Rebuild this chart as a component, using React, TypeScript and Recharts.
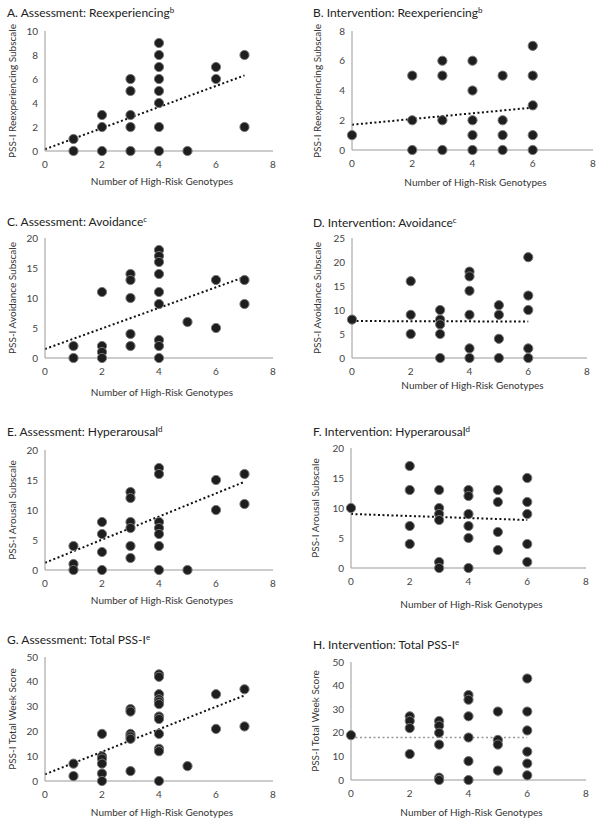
import React from "react";
import { ScatterChart, Scatter, XAxis, YAxis, ReferenceLine } from "recharts";

// [genotypes, score] pairs
const assessReexp: [number, number][] = [
  [1, 1], [1, 0],
  [2, 3], [2, 2], [2, 0],
  [3, 6], [3, 5], [3, 3], [3, 2], [3, 0],
  [4, 9], [4, 8], [4, 7], [4, 6], [4, 5], [4, 4], [4, 2], [4, 0],
  [5, 0],
  [6, 7], [6, 6],
  [7, 8], [7, 2],
];
const interReexp: [number, number][] = [
  [0, 1],
  [2, 5], [2, 2], [2, 0],
  [3, 6], [3, 5], [3, 2], [3, 0],
  [4, 6], [4, 4], [4, 2], [4, 1], [4, 0],
  [5, 5], [5, 2], [5, 1], [5, 0],
  [6, 7], [6, 5], [6, 3], [6, 1], [6, 0],
];
const assessAvoid: [number, number][] = [
  [1, 2], [1, 0],
  [2, 11], [2, 2], [2, 1], [2, 0],
  [3, 14], [3, 13], [3, 10], [3, 4], [3, 2],
  [4, 18], [4, 17], [4, 16], [4, 14], [4, 11], [4, 9], [4, 3], [4, 2], [4, 0],
  [5, 6],
  [6, 13], [6, 5],
  [7, 13], [7, 9],
];
const interAvoid: [number, number][] = [
  [0, 8],
  [2, 16], [2, 9], [2, 5],
  [3, 10], [3, 8], [3, 7], [3, 5], [3, 0],
  [4, 18], [4, 17], [4, 14], [4, 9], [4, 2], [4, 0],
  [5, 11], [5, 9], [5, 4], [5, 0],
  [6, 21], [6, 13], [6, 10], [6, 2], [6, 0],
];
const assessArousal: [number, number][] = [
  [1, 4], [1, 1], [1, 0],
  [2, 8], [2, 6], [2, 3], [2, 0],
  [3, 13], [3, 12], [3, 8], [3, 7], [3, 4], [3, 2],
  [4, 17], [4, 16], [4, 8], [4, 7], [4, 6], [4, 4], [4, 0],
  [5, 0],
  [6, 15], [6, 10],
  [7, 16], [7, 11],
];
const interArousal: [number, number][] = [
  [0, 10],
  [2, 17], [2, 13], [2, 7], [2, 4],
  [3, 13], [3, 10], [3, 9], [3, 8], [3, 1], [3, 0],
  [4, 13], [4, 12], [4, 9], [4, 7], [4, 5], [4, 0],
  [5, 13], [5, 11], [5, 6], [5, 3],
  [6, 15], [6, 11], [6, 9], [6, 4], [6, 1],
];
const assessTotal: [number, number][] = [
  [1, 7], [1, 2],
  [2, 19], [2, 10], [2, 9], [2, 7], [2, 3], [2, 0],
  [3, 29], [3, 28], [3, 19], [3, 18], [3, 17], [3, 4],
  [4, 43], [4, 42], [4, 35], [4, 33], [4, 32], [4, 31], [4, 26], [4, 25], [4, 19], [4, 13], [4, 12], [4, 0],
  [5, 6],
  [6, 35], [6, 21],
  [7, 37], [7, 22],
];
const interTotal: [number, number][] = [
  [0, 19],
  [2, 27], [2, 25], [2, 22], [2, 11],
  [3, 25], [3, 23], [3, 20], [3, 15], [3, 1], [3, 0],
  [4, 36], [4, 34], [4, 27], [4, 18], [4, 8], [4, 0],
  [5, 29], [5, 17], [5, 15], [5, 4],
  [6, 43], [6, 29], [6, 21], [6, 12], [6, 7], [6, 2],
];

// fitted trend line endpoints: [x0, y0, x1, y1]
const trendAssessReexp = [0, 0.15, 7, 6.3];
const trendInterReexp = [0, 1.7, 6, 2.85];
const trendAssessAvoid = [0, 1.5, 7, 13.5];
const trendInterAvoid = [0, 7.7, 6, 7.6];
const trendAssessArousal = [0, 1.2, 7, 14.7];
const trendInterArousal = [0, 9, 6, 8];
const trendAssessTotal = [0, 2.7, 7, 34.5];
const trendInterTotal = [0, 18, 6, 18];

const xTicks = [0, 2, 4, 6, 8];

const FONT = "Lato, 'Open Sans', sans-serif";
const Y_AXIS_W = 30;

interface Panel {
  title: string;
  sup: string;
  yLabel: string;
  points: [number, number][];
  trend: number[];
  yTicks: number[];
  titleX: number;
  titleY: number;
  L: number;
  R: number;
  T: number;
  B: number;
  yLabelX: number;
  xLabelY: number;
  trendColor: string;
  trendWidth: number;
}

const panels: Panel[] = [
  { title: "A. Assessment: Reexperiencing", sup: "b", yLabel: "PSS-I Reexperiencing Subscale", points: assessReexp, trend: trendAssessReexp, yTicks: [0, 2, 4, 6, 8, 10], titleX: 7, titleY: 13, L: 45, R: 273, T: 31, B: 151, yLabelX: 12, xLabelY: 181, trendColor: "#111", trendWidth: 2 },
  { title: "B. Intervention: Reexperiencing", sup: "b", yLabel: "PSS-I Reexperiencing Subscale", points: interReexp, trend: trendInterReexp, yTicks: [0, 2, 4, 6, 8], titleX: 313, titleY: 13, L: 352, R: 593, T: 31, B: 150, yLabelX: 317, xLabelY: 182, trendColor: "#111", trendWidth: 2 },
  { title: "C. Assessment: Avoidance", sup: "c", yLabel: "PSS-I Avoidance Subscale", points: assessAvoid, trend: trendAssessAvoid, yTicks: [0, 5, 10, 15, 20], titleX: 7, titleY: 222, L: 45, R: 273, T: 238, B: 358, yLabelX: 12, xLabelY: 392, trendColor: "#111", trendWidth: 2 },
  { title: "D. Intervention: Avoidance", sup: "c", yLabel: "PSS-I Avoidance Subscale", points: interAvoid, trend: trendInterAvoid, yTicks: [0, 5, 10, 15, 20, 25], titleX: 313, titleY: 223, L: 352, R: 587, T: 238, B: 358, yLabelX: 317, xLabelY: 385, trendColor: "#111", trendWidth: 2 },
  { title: "E. Assessment: Hyperarousal", sup: "d", yLabel: "PSS-I Arousal Subscale", points: assessArousal, trend: trendAssessArousal, yTicks: [0, 5, 10, 15, 20], titleX: 7, titleY: 432, L: 45, R: 273, T: 450, B: 570, yLabelX: 12, xLabelY: 600, trendColor: "#111", trendWidth: 2 },
  { title: "F. Intervention: Hyperarousal", sup: "d", yLabel: "PSS-I Arousal Subscale", points: interArousal, trend: trendInterArousal, yTicks: [0, 5, 10, 15, 20], titleX: 313, titleY: 432, L: 351, R: 586, T: 448, B: 568, yLabelX: 315, xLabelY: 604, trendColor: "#111", trendWidth: 2 },
  { title: "G. Assessment: Total PSS-I", sup: "e", yLabel: "PSS-I Total Week Score", points: assessTotal, trend: trendAssessTotal, yTicks: [0, 10, 20, 30, 40, 50], titleX: 7, titleY: 640, L: 45, R: 273, T: 657, B: 781, yLabelX: 12, xLabelY: 812, trendColor: "#111", trendWidth: 2 },
  { title: "H. Intervention: Total PSS-I", sup: "e", yLabel: "PSS-I Total Week Score", points: interTotal, trend: trendInterTotal, yTicks: [0, 10, 20, 30, 40, 50], titleX: 313, titleY: 645, L: 351, R: 586, T: 662, B: 780, yLabelX: 315, xLabelY: 812, trendColor: "#999", trendWidth: 1.5 },
];

const Dot = (props: { cx?: number; cy?: number }) => {
  if (props.cx == null || props.cy == null) return null;
  return <circle cx={props.cx} cy={props.cy} r={4.6} fill="#1e1e1e" stroke="#777" strokeWidth={1} />;
};

function ScatterPanel({ p }: { p: Panel }) {
  const data = p.points.map(([x, y]) => ({ x, y }));
  const width = p.R - p.L + Y_AXIS_W + 12;
  const height = p.B - p.T + 10 + 30;
  const yMax = p.yTicks[p.yTicks.length - 1];
  const tickStyle = { fontSize: 10, fill: "#444", fontFamily: FONT };
  return (
    <>
      <div style={{ position: "absolute", left: p.titleX, top: p.titleY - 8, fontSize: 12, lineHeight: "16px", color: "#222", whiteSpace: "nowrap", fontFamily: FONT }}>
        {p.title}
        <sup style={{ fontSize: 8, verticalAlign: "top", position: "relative", top: -3 }}>{p.sup}</sup>
      </div>
      <div style={{ position: "absolute", left: p.L - Y_AXIS_W, top: p.T - 10 }}>
        <ScatterChart width={width} height={height} margin={{ top: 10, right: 12, bottom: 0, left: 0 }}>
          <XAxis
            type="number"
            dataKey="x"
            domain={[0, 8]}
            ticks={xTicks}
            tickLine={false}
            tickSize={0}
            tickMargin={10}
            height={30}
            stroke="#999"
            tick={tickStyle}
          />
          <YAxis
            type="number"
            dataKey="y"
            domain={[0, yMax]}
            ticks={p.yTicks}
            tickLine={false}
            tickSize={0}
            tickMargin={7}
            width={Y_AXIS_W}
            stroke="#999"
            tick={tickStyle}
          />
          <ReferenceLine
            segment={[{ x: p.trend[0], y: p.trend[1] }, { x: p.trend[2], y: p.trend[3] }]}
            stroke={p.trendColor}
            strokeWidth={p.trendWidth}
            strokeDasharray="2 2.5"
          />
          <Scatter data={data} shape={Dot} isAnimationActive={false} />
        </ScatterChart>
      </div>
      <div style={{ position: "absolute", left: p.yLabelX, top: (p.T + p.B) / 2, transform: "translate(-50%, -50%) rotate(-90deg)", fontSize: 10, color: "#333", whiteSpace: "nowrap", fontFamily: FONT }}>
        {p.yLabel}
      </div>
      <div style={{ position: "absolute", left: (p.L + p.R) / 2 + 3, top: p.xLabelY, transform: "translate(-50%, -50%)", fontSize: 10, color: "#333", whiteSpace: "nowrap", fontFamily: FONT }}>
        Number of High-Risk Genotypes
      </div>
    </>
  );
}

export default function App() {
  return (
    <div style={{ position: "absolute", left: 0, top: 0, width: 603, height: 825, background: "#fff", fontFamily: FONT }}>
      {panels.map((p) => (
        <ScatterPanel key={p.title} p={p} />
      ))}
    </div>
  );
}
